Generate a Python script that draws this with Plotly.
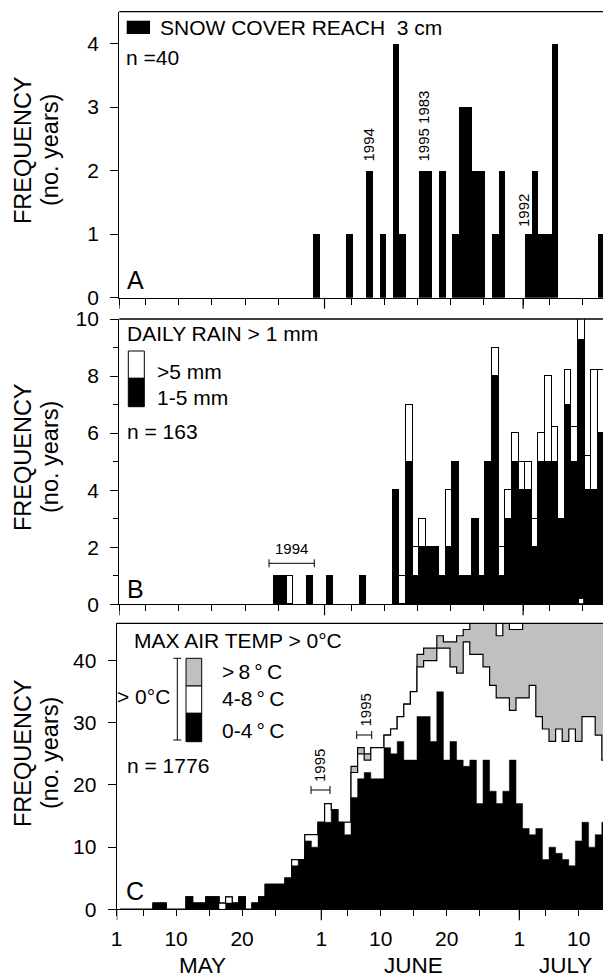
import plotly.graph_objects as go

W, H = 611, 980
OX, OY = 8, 8          # page body offset of the rendered figure
FONT = "Liberation Sans, Arial, sans-serif"

# ---------------- data ----------------
# x = day offset from 1 May (0 = 1 May, 31 = 1 June, 61 = 1 July)
TICK_DAYS = [0, 9, 19, 31, 40, 50, 61, 70]
TICK_LABELS = ["1", "10", "20", "1", "10", "20", "1", "10"]
MINOR_DAYS = [4, 14, 24, 35, 45, 55, 65]
MONTH_START_DAYS = [0, 31, 61]
MONTHS = ["MAY", "JUNE", "JULY"]
MONTH_LABEL_DAYS = [13, 45, 68]

# Panel A: snow cover reaching 3 cm (no. of years)
snow_days = [29, 34, 37, 39, 41, 42, 45, 46, 48, 50, 51, 52, 53, 54, 56, 57,
             61, 62, 63, 64, 65, 72]
snow_years = [1, 1, 2, 1, 4, 1, 2, 2, 2, 1, 3, 3, 2, 2, 1, 2,
              1, 2, 1, 1, 4, 1]

# Panel B: daily rain > 1 mm
rain_days = [23, 24, 25, 28, 31, 36] + list(range(41, 74))
rain_1_5mm = [1, 1, 0, 1, 1, 1,
              4, 0, 5, 1, 2, 2, 2, 1, 2, 5, 1, 1, 3, 1, 5, 8, 1, 3, 5, 4, 4,
              2, 5, 5, 5, 3, 7, 5, 9.25, 4, 4, 6, 6]
rain_gt5mm = [0, 0, 1, 0, 0, 0,
              0, 1, 2, 1, 1, 0, 0, 0, 2, 0, 0, 0, 0, 0, 0, 1, 1, 1, 1, 1, 1,
              1, 1, 3, 1.2, 0, 1.2, 1.2, 0.75, 1.2, 4.2, 2.2, 2.2]
rain_gap_day = [69]          # small >5 mm box at the base of that day's bar
rain_gap_value = [0.2]

# Panel C: max air temperature > 0 C, one value per day from 1 May
temp_0_4 = [0, 0, 0, 0, 0, 1, 1, 0, 0, 0, 2, 1, 1, 2, 2, 0, 1, 1, 2, 0,
            1, 2, 4, 4, 4, 5, 7, 8, 11, 10, 14, 14, 16, 14, 12, 18, 21, 22, 21, 21,
            26, 25, 27, 24, 24, 31, 31, 27, 35, 24, 27, 24, 23, 24, 17, 24, 19, 17, 19, 24,
            17, 13, 12, 13, 8, 10, 9, 8, 7, 11, 14, 10, 12, 14]
temp_4_8 = [0, 0, 0, 0, 0, 0, 0, 0, 0, 0, 0, 0, 0, 0, 0, 1, 1, 0, 0, 0,
            0, 0, 0, 0, 0, 0, 1, 0, 1, 2, 0, 3, 0, 0, 2, 4, 4, 2, 5, 5,
            2, 4, 4, 9, 11, 8, 9, 13, 7, 18, 12, 14, 20, 17, 24, 15, 17, 17, 15, 8,
            17, 21, 24, 18, 21, 17, 20, 19, 22, 16, 17, 21, 16, 10]
temp_gt8 = [0, 0, 0, 0, 0, 0, 0, 0, 0, 0, 0, 0, 0, 0, 0, 0, 0, 0, 0, 0,
            0, 0, 0, 0, 0, 0, 0, 0, 0, 0, 0, 0, 0, 0, 0, 1, 1, 1, 0, 0,
            0, 0, 0, 0, 0, 2, 2, 2, 2, 1, 4, 6, 2, 6, 6, 8, 11, 10, 13, 13,
            11, 13, 11, 16, 18, 20, 18, 20, 18, 20, 16, 16, 19, 23]

# ---------------- geometry (pixels, in picture coordinates) ----------------
def px(x):
    return (x - OX) / W


def py(y):
    return 1 - (y - OY) / H


X_END = W + OX               # picture x of the figure's right edge
AB_LEFT, C_LEFT = 119.3, 116.7
A_TOP, A_BOT = 11.7, 297.7
B_TOP, B_BOT = 319.0, 604.3
C_TOP, C_BOT = 623.3, 909.3
AB_RANGE = [0, (X_END - AB_LEFT) / 6.62]
C_RANGE = [0, (X_END - C_LEFT) / 6.6]
AB_OFF = 0.85   # bar centre offset for panels A, B
C_OFF = 0.5     # left-edge offset for panel C steps

fig = go.Figure()

# Panel A
fig.add_trace(go.Bar(x=[d + AB_OFF for d in snow_days], y=snow_years, width=1,
                     marker=dict(color="black", line=dict(width=0)),
                     xaxis="x", yaxis="y", showlegend=False))

# Panel B
fig.add_trace(go.Bar(x=[d + AB_OFF for d in rain_days], y=rain_1_5mm, width=1,
                     marker=dict(color="black", line=dict(color="black", width=1)),
                     xaxis="x2", yaxis="y2", showlegend=False))
fig.add_trace(go.Bar(x=[d + AB_OFF for d in rain_days], y=rain_gt5mm, width=1,
                     marker=dict(color="white", line=dict(color="black", width=1)),
                     xaxis="x2", yaxis="y2", showlegend=False))
fig.add_trace(go.Bar(x=[d + AB_OFF for d in rain_gap_day], y=rain_gap_value,
                     base=[0] * len(rain_gap_day), width=0.7,
                     marker=dict(color="white", line=dict(color="black", width=0.8)),
                     xaxis="x2", yaxis="y2", showlegend=False))

# Panel C (stacked step areas)
n = len(temp_0_4)
cum1 = list(temp_0_4)
cum2 = [a + b for a, b in zip(temp_0_4, temp_4_8)]
cum3 = [a + b + c for a, b, c in zip(temp_0_4, temp_4_8, temp_gt8)]
xs = [j + C_OFF for j in range(n)] + [n + C_OFF]
for vals, fillc, lw in [(cum3, "#c0c0c0", 1.2), (cum2, "white", 1.2), (cum1, "black", 0.5)]:
    fig.add_trace(go.Scatter(x=xs, y=vals + [0], mode="lines",
                             line=dict(shape="hv", color="black", width=lw),
                             fill="tozeroy", fillcolor=fillc, xaxis="x3", yaxis="y3",
                             showlegend=False, hoverinfo="skip"))

TICKFONT = dict(family=FONT, size=21, color="black")
axis_common = dict(showline=True, linecolor="black", linewidth=1.3, ticks="outside",
                   tickcolor="black", tickwidth=1.2, showgrid=False, zeroline=False,
                   automargin=False, tickfont=TICKFONT)
xcommon = dict(axis_common, tickmode="array", tickvals=TICK_DAYS, ticklen=6,
               minor=dict(tickmode="array", tickvals=MINOR_DAYS, ticks="outside", ticklen=6,
                          tickcolor="black", tickwidth=1.2))

fig.update_layout(
    width=W, height=H, margin=dict(l=0, r=0, t=0, b=0, pad=0, autoexpand=False),
    paper_bgcolor="white", plot_bgcolor="white",
    barmode="stack", bargap=0, showlegend=False,
    font=dict(family=FONT, color="black"),
    xaxis=dict(xcommon, domain=[px(AB_LEFT), 1], range=AB_RANGE, anchor="y", showticklabels=False),
    xaxis2=dict(xcommon, domain=[px(AB_LEFT), 1], range=AB_RANGE, anchor="y2", showticklabels=False),
    xaxis3=dict(xcommon, domain=[px(C_LEFT), 1], range=C_RANGE, anchor="y3",
                ticktext=TICK_LABELS, ticklabelstandoff=4),
    yaxis=dict(axis_common, domain=[py(A_BOT), py(A_TOP)], range=[0, 4.5], anchor="x",
               tickvals=[0, 1, 2, 3, 4], ticklen=8, ticklabelstandoff=7),
    yaxis2=dict(axis_common, domain=[py(B_BOT), py(B_TOP)], range=[0, 10], anchor="x2",
                tickvals=[0, 2, 4, 6, 8, 10], ticklen=8, ticklabelstandoff=7,
                minor=dict(tickmode="array", tickvals=[1, 3, 5, 7, 9], ticks="outside",
                           ticklen=5, tickcolor="black", tickwidth=1.2)),
    yaxis3=dict(axis_common, domain=[py(C_BOT), py(C_TOP)], range=[0, 46], anchor="x3",
                tickvals=[0, 10, 20, 30, 40], ticklen=8, ticklabelstandoff=7),
)

shapes = []
# top frame lines
for left, top in [(AB_LEFT, A_TOP), (AB_LEFT, B_TOP), (C_LEFT, C_TOP)]:
    shapes.append(dict(type="line", xref="paper", yref="paper", x0=px(left), x1=1,
                       y0=py(top), y1=py(top), line=dict(color="black", width=1.3)))
# long ticks at month starts
for xa, ya, hpx in [("x", "y", A_BOT - A_TOP), ("x2", "y2", B_BOT - B_TOP), ("x3", "y3", C_BOT - C_TOP)]:
    for d in MONTH_START_DAYS:
        shapes.append(dict(type="line", xref=xa, yref=ya + " domain", x0=d, x1=d,
                           y0=0, y1=-11 / hpx, line=dict(color="black", width=1.2)))


def rect(x0, y0, x1, y1, fill, lw=1.0):
    shapes.append(dict(type="rect", xref="paper", yref="paper", x0=px(x0), x1=px(x1),
                       y0=py(y1), y1=py(y0), fillcolor=fill,
                       line=dict(color="black", width=lw)))


def hline(x0, x1, y, lw=1.0):
    shapes.append(dict(type="line", xref="paper", yref="paper", x0=px(x0), x1=px(x1),
                       y0=py(y), y1=py(y), line=dict(color="black", width=lw)))


def vline(x, y0, y1, lw=1.0):
    shapes.append(dict(type="line", xref="paper", yref="paper", x0=px(x), x1=px(x),
                       y0=py(y0), y1=py(y1), line=dict(color="black", width=lw)))


def bracket_h(x0, x1, y, cap=4):
    hline(x0, x1, y)
    vline(x0, y - cap, y + cap)
    vline(x1, y - cap, y + cap)


# legends
rect(126.7, 20.7, 150, 34, "black", 0)
rect(128.3, 351, 144.3, 378.3, "white")
rect(128.3, 378.3, 144.3, 406.7, "black")
rect(186, 658.3, 201.7, 686, "#c0c0c0")
rect(186, 686, 201.7, 713.3, "white")
rect(186, 713.3, 201.7, 741.7, "black")
vline(177.3, 658.3, 740)
hline(173.3, 181.3, 658.3)
hline(173.3, 181.3, 740)

# year brackets
bracket_h(269, 314.3, 563.3)
bracket_h(311, 330, 790)
bracket_h(356.7, 371.7, 735)

fig.update_layout(shapes=shapes)

anns = []


def text(x, y, s, size=21, xanchor="left", angle=0):
    anns.append(dict(x=px(x), y=py(y), xref="paper", yref="paper", text=s, showarrow=False,
                     xanchor=xanchor, yanchor="middle", textangle=angle,
                     font=dict(family=FONT, size=size, color="black")))


# axis titles
for yc in [150, 457, 753]:
    text(23, yc, "FREQUENCY", size=23.5, xanchor="center", angle=-90)
    text(50, yc, "(no. years)", size=23.5, xanchor="center", angle=-90)

# month names
for d, name in zip(MONTH_LABEL_DAYS, MONTHS):
    anns.append(dict(x=d, y=-56 / (C_BOT - C_TOP), xref="x3", yref="y3 domain", text=name,
                     showarrow=False, xanchor="center", yanchor="middle",
                     font=dict(family=FONT, size=22.5, color="black")))

# panel A
text(158.3, 27, "SNOW COVER REACH\u00a0\u00a03 cm")
text(124, 57, "n =40")
text(125, 280, "A", size=25)
text(367.5, 145, "1994", size=15, xanchor="center", angle=-90)
text(423, 126.5, "1995 1983", size=15, xanchor="center", angle=-90)
text(523, 211, "1992", size=15, xanchor="center", angle=-90)

# panel B
text(124.5, 333.3, "DAILY RAIN > 1 mm")
text(155, 371.7, ">5 mm")
text(155, 397.7, "1-5 mm")
text(124.5, 431.7, "n = 163")
text(125, 589, "B", size=25)
text(291.5, 548, "1994", size=15, xanchor="center")

# panel C
text(131.5, 640, "MAX AIR TEMP > 0°C")
text(220, 671.7, ">\u20098\u2009°\u2009C")
text(220, 698.3, "4-8\u2009°\u2009C")
text(220, 730, "0-4\u2009°\u2009C")
text(172, 696.7, "> 0°C", xanchor="right")
text(124.5, 765, "n = 1776")
text(124, 891, "C", size=25)
text(319, 766, "1995", size=15, xanchor="center", angle=-90)
text(364.5, 710, "1995", size=15, xanchor="center", angle=-90)

fig.update_layout(annotations=anns)
fig.write_html("out.html")
